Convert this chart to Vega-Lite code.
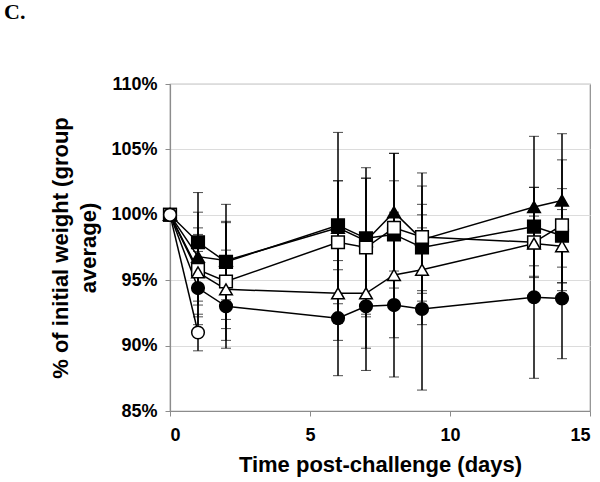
{
  "$schema": "https://vega.github.io/schema/vega-lite/v6.json",
  "autosize": "none",
  "width": 420,
  "height": 327,
  "padding": {"left": 170, "top": 84, "right": 10, "bottom": 71},
  "background": "white",
  "title": {"text": "C.", "anchor": "start", "frame": "group", "dx": -166, "offset": 51, "font": "Liberation Serif", "fontSize": 22, "fontWeight": "bold", "color": "black"},
  "config": {
    "view": {"stroke": "#8c8c8c", "strokeWidth": 1.2},
    "axis": {"labelFont": "Liberation Sans", "titleFont": "Liberation Sans", "labelFontWeight": "bold", "titleFontWeight": "bold", "labelColor": "black", "titleColor": "black", "labelFontSize": 18, "titleFontSize": 22, "domainColor": "#8c8c8c", "tickColor": "#8c8c8c", "domainWidth": 1.2, "tickSize": 5}
  },
  "data": {"values": [
    {"g": "E", "day": 0, "w": 100, "e": 0},
    {"g": "E", "day": 1, "w": 97.9, "e": 3.8},
    {"g": "E", "day": 2, "w": 96.4, "e": 4.4},
    {"g": "E", "day": 6, "w": 99.2, "e": 3.4},
    {"g": "E", "day": 7, "w": 98.2, "e": 4.6},
    {"g": "E", "day": 8, "w": 98.5, "e": 4.1},
    {"g": "E", "day": 9, "w": 97.5, "e": 3.3},
    {"g": "E", "day": 13, "w": 99.1, "e": 3.0},
    {"g": "E", "day": 14, "w": 98.4, "e": 3.6},
    {"g": "C", "day": 0, "w": 100, "e": 0},
    {"g": "C", "day": 1, "w": 96.8, "e": 3.4},
    {"g": "C", "day": 2, "w": 96.5, "e": 3.0},
    {"g": "C", "day": 6, "w": 99.0, "e": 7.3},
    {"g": "C", "day": 7, "w": 98.0, "e": 5.6},
    {"g": "C", "day": 8, "w": 100.2, "e": 4.5},
    {"g": "C", "day": 9, "w": 98.1, "e": 4.1},
    {"g": "C", "day": 13, "w": 100.6, "e": 5.4},
    {"g": "C", "day": 14, "w": 101.1, "e": 5.1},
    {"g": "F", "day": 0, "w": 100, "e": 0},
    {"g": "F", "day": 1, "w": 95.8, "e": 2.7},
    {"g": "F", "day": 2, "w": 94.9, "e": 4.5},
    {"g": "F", "day": 6, "w": 97.9, "e": 4.7},
    {"g": "F", "day": 7, "w": 97.5, "e": 5.3},
    {"g": "F", "day": 8, "w": 99.0, "e": 5.7},
    {"g": "F", "day": 9, "w": 98.3, "e": 4.9},
    {"g": "F", "day": 13, "w": 97.9, "e": 4.2},
    {"g": "F", "day": 14, "w": 99.2, "e": 5.0},
    {"g": "D", "day": 0, "w": 100, "e": 0},
    {"g": "D", "day": 1, "w": 95.6, "e": 3.4},
    {"g": "D", "day": 2, "w": 94.3, "e": 3.0},
    {"g": "D", "day": 6, "w": 94.0, "e": 3.6},
    {"g": "D", "day": 7, "w": 94.0, "e": 4.2},
    {"g": "D", "day": 8, "w": 95.4, "e": 4.8},
    {"g": "D", "day": 9, "w": 95.8, "e": 4.2},
    {"g": "D", "day": 13, "w": 97.8, "e": 2.5},
    {"g": "D", "day": 14, "w": 97.6, "e": 2.8},
    {"g": "A", "day": 0, "w": 100, "e": 0},
    {"g": "A", "day": 1, "w": 94.4, "e": 2.8},
    {"g": "A", "day": 2, "w": 93.0, "e": 3.2},
    {"g": "A", "day": 6, "w": 92.1, "e": 4.4},
    {"g": "A", "day": 7, "w": 93.0, "e": 4.9},
    {"g": "A", "day": 8, "w": 93.1, "e": 5.5},
    {"g": "A", "day": 9, "w": 92.8, "e": 6.2},
    {"g": "A", "day": 13, "w": 93.7, "e": 6.2},
    {"g": "A", "day": 14, "w": 93.6, "e": 4.6},
    {"g": "B", "day": 0, "w": 100, "e": 0},
    {"g": "B", "day": 1, "w": 91.0, "e": 1.4}
  ]},
  "encoding": {
    "x": {"field": "day", "type": "quantitative", "scale": {"domain": [0, 15], "nice": false},
      "axis": {"values": [0, 5, 10, 15], "grid": false, "title": "Time post-challenge (days)", "labelPadding": 10, "titlePadding": 10}},
    "y": {"field": "w", "type": "quantitative", "scale": {"domain": [85, 110], "nice": false, "zero": false},
      "axis": {"values": [85, 90, 95, 100, 105, 110], "labelExpr": "datum.value + '%'", "grid": true, "gridColor": "#dcdcdc", "labelPadding": 8,
        "title": ["% of initial weight (group", "average)"], "titlePadding": 10, "titleLineHeight": 28}}
  },
  "layer": [
    {
      "transform": [{"filter": "datum.e > 0"}],
      "mark": {"type": "errorbar", "ticks": {"size": 10, "color": "black", "strokeWidth": 1.5}, "rule": {"color": "black", "strokeWidth": 1.5}},
      "encoding": {"yError": {"field": "e"}, "detail": {"field": "g"}}
    },
    {
      "mark": {"type": "line", "color": "black", "strokeWidth": 1.5},
      "encoding": {"detail": {"field": "g"}}
    },
    {
      "mark": {"type": "point", "filled": false, "stroke": "black", "strokeWidth": 1.5, "opacity": 1, "size": 160},
      "encoding": {
        "shape": {"field": "g", "type": "nominal", "scale": {"domain": ["A", "B", "C", "D", "E", "F"], "range": ["circle", "circle", "triangle-up", "triangle-up", "square", "square"]}, "legend": null},
        "fill": {"field": "g", "type": "nominal", "scale": {"domain": ["A", "B", "C", "D", "E", "F"], "range": ["black", "white", "black", "white", "black", "white"]}, "legend": null}
      }
    }
  ]
}
